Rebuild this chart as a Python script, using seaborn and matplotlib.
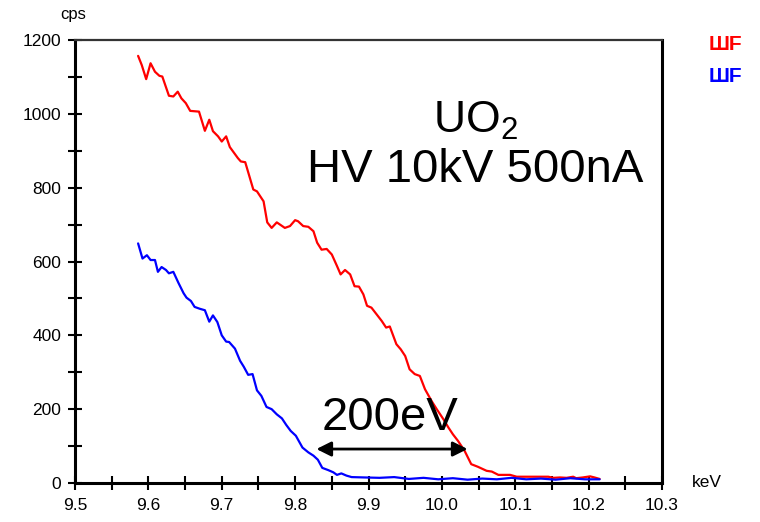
import matplotlib
matplotlib.use("Agg")
import matplotlib.pyplot as plt
import seaborn as sns
import pandas as pd
from matplotlib.ticker import MultipleLocator

# ---- data ----
red_kev = [9.586, 9.591, 9.597, 9.603, 9.609, 9.615, 9.619, 9.628, 9.634, 9.640,
           9.645, 9.651, 9.657, 9.669, 9.677, 9.683, 9.688, 9.695, 9.700, 9.706,
           9.711, 9.722, 9.726, 9.732, 9.743, 9.748, 9.757, 9.762, 9.768, 9.775,
           9.786, 9.793, 9.800, 9.804, 9.811, 9.818, 9.825, 9.830, 9.836, 9.843,
           9.850, 9.857, 9.862, 9.868, 9.875, 9.881, 9.887, 9.893, 9.898, 9.904,
           9.911, 9.918, 9.924, 9.929, 9.938, 9.944, 9.950, 9.956, 9.963, 9.970,
           9.977, 9.986, 9.993, 10.002, 10.009, 10.015, 10.022, 10.031, 10.040, 10.049,
           10.061, 10.068, 10.077, 10.093, 10.102, 10.120, 10.145, 10.152, 10.161, 10.170,
           10.179, 10.183, 10.192, 10.202, 10.208, 10.215]
red_cps = [1157, 1132, 1094, 1137, 1114, 1103, 1101, 1049, 1047, 1060,
           1042, 1029, 1008, 1006, 954, 984, 953, 939, 925, 939,
           910, 880, 871, 869, 795, 790, 763, 706, 691, 706,
           691, 696, 712, 709, 696, 694, 682, 651, 632, 634,
           619, 588, 565, 577, 565, 533, 532, 511, 480, 475,
           457, 439, 421, 424, 376, 362, 344, 308, 295, 290,
           254, 222, 200, 173, 150, 132, 114, 87, 51, 44,
           33, 31, 22, 22, 17, 17, 17, 14, 15, 14,
           17, 13, 15, 18, 15, 11]

blue_kev = [9.586, 9.592, 9.598, 9.603, 9.609, 9.613, 9.618, 9.624, 9.628, 9.634,
            9.641, 9.648, 9.652, 9.658, 9.663, 9.670, 9.677, 9.683, 9.688, 9.694,
            9.700, 9.706, 9.710, 9.718, 9.725, 9.730, 9.736, 9.742, 9.748, 9.754,
            9.761, 9.768, 9.775, 9.782, 9.788, 9.794, 9.801, 9.810, 9.818, 9.825,
            9.831, 9.837, 9.845, 9.852, 9.857, 9.863, 9.870, 9.877, 9.895, 9.915,
            9.935, 9.955, 9.975, 9.995, 10.015, 10.035, 10.055, 10.075, 10.095, 10.115,
            10.135, 10.155, 10.175, 10.195, 10.215]
blue_cps = [649, 608, 617, 604, 604, 572, 585, 577, 568, 572,
            542, 514, 502, 493, 477, 472, 468, 437, 454, 436,
            400, 383, 382, 364, 331, 315, 293, 295, 251, 236,
            206, 200, 186, 175, 157, 141, 128, 96, 83, 74,
            63, 41, 35, 29, 22, 26, 20, 16, 15, 14,
            16, 11, 14, 10, 13, 9, 12, 10, 14, 10,
            12, 9, 13, 10, 10]

x_ticks = [9.5, 9.6, 9.7, 9.8, 9.9, 10.0, 10.1, 10.2, 10.3]
x_ticklabels = ["9.5", "9.6", "9.7", "9.8", "9.9", "10.0", "10.1", "10.2", "10.3"]
y_ticks = [0, 200, 400, 600, 800, 1000, 1200]
legend_labels = ["ШF", "ШF"]
arrow_span = [9.829, 10.035]
arrow_level = 92

# ---- styling ----
sns.set_style("white")
plt.rcParams["font.family"] = ["Liberation Sans", "DejaVu Sans"]
plt.rcParams["mathtext.fontset"] = "custom"
plt.rcParams["mathtext.rm"] = "Liberation Sans"
plt.rcParams["mathtext.it"] = "Liberation Sans"
plt.rcParams["text.color"] = "black"
plt.rcParams["xtick.color"] = "black"
plt.rcParams["ytick.color"] = "black"
plt.rcParams["xtick.labelcolor"] = "black"
plt.rcParams["ytick.labelcolor"] = "black"

fig = plt.figure(figsize=(7.6, 5.22), dpi=100)
ax = fig.add_axes([75 / 760, 1 - 483 / 522, (662 - 75) / 760, (483 - 40) / 522])

df_red = pd.DataFrame({"keV": red_kev, "cps": red_cps})
df_blue = pd.DataFrame({"keV": blue_kev, "cps": blue_cps})
sns.lineplot(data=df_red, x="keV", y="cps", color="#ff0000", linewidth=1.6, ax=ax)
sns.lineplot(data=df_blue, x="keV", y="cps", color="#0000ff", linewidth=1.6, ax=ax)

ax.set_xlim(9.5, 10.3)
ax.set_ylim(0, 1200)
ax.set_xticks(x_ticks)
ax.set_xticklabels(x_ticklabels)
ax.set_yticks(y_ticks)
ax.xaxis.set_minor_locator(MultipleLocator(0.05))
ax.yaxis.set_minor_locator(MultipleLocator(100))
ax.set_xlabel("")
ax.set_ylabel("")
ax.tick_params(axis="both", which="both", direction="inout", length=10, width=1.5,
               color="black", labelcolor="black", labelsize=12.5, pad=6,
               bottom=True, left=True, top=False, right=False)
ax.tick_params(axis="y", which="both", pad=5)
for side in ["left", "bottom", "right"]:
    ax.spines[side].set_visible(True)
    ax.spines[side].set_color("black")
    ax.spines[side].set_linewidth(2.2)
ax.spines["top"].set_visible(True)
ax.spines["top"].set_color("#333333")
ax.spines["top"].set_linewidth(1.6)

# double arrow 200eV
ax.annotate("", xy=(arrow_span[1], arrow_level), xytext=(arrow_span[0], arrow_level),
            arrowprops=dict(arrowstyle="<|-|>", color="black", lw=2,
                            mutation_scale=22, shrinkA=0, shrinkB=0))

# texts
fig.text(475 / 760, 1 - 133 / 522, r"UO$_2$", fontsize=32, ha="center", va="baseline", color="black")
fig.text(475 / 760, 1 - 182 / 522, "HV 10kV 500nA", fontsize=34, ha="center", va="baseline", color="black")
fig.text(390 / 760, 1 - 430 / 522, "200eV", fontsize=34, ha="center", va="baseline", color="black")
fig.text(73 / 760, 1 - 19 / 522, "cps", fontsize=12, ha="center", va="baseline", color="black")
fig.text(692 / 760, 1 - 487 / 522, "keV", fontsize=12.5, ha="left", va="baseline", color="black")
fig.text(709 / 760, 1 - 50 / 522, legend_labels[0], fontsize=15, fontweight="bold",
         color="#ff0000", ha="left", va="baseline")
fig.text(709 / 760, 1 - 82 / 522, legend_labels[1], fontsize=15, fontweight="bold",
         color="#0000ff", ha="left", va="baseline")

fig.savefig("out.png", dpi=100)
